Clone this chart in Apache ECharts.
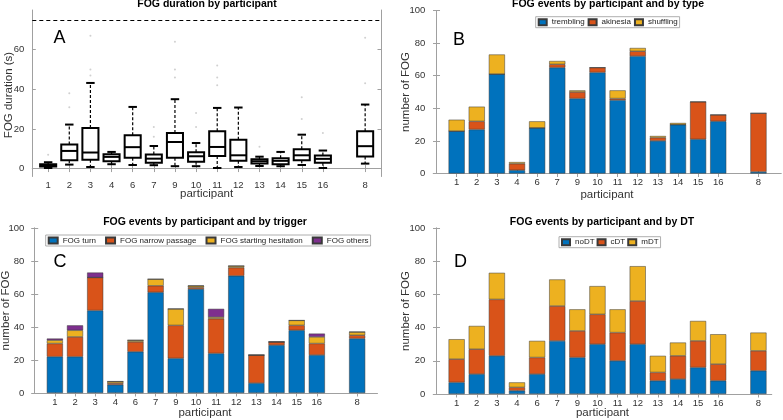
<!DOCTYPE html>
<html><head><meta charset="utf-8">
<script src="https://cdn.jsdelivr.net/npm/echarts@6/dist/echarts.min.js"></script>
<style>html,body{margin:0;padding:0;background:#fff}#c{width:783px;height:420px}</style>
</head><body><div id="c"></div>
<script>
// ---- data ----
const participants = ['1','2','3','4','6','7','9','10','11','12','13','14','15','16','8'];
const positions = [1,2,3,4,5,6,7,8,9,10,11,12,13,14,16];

// Panel A: FOG duration box statistics (s)
const durWhiskerLow  = [0.3, 2.0, 0.8, 2.2, 1.8, 1.7, 1.2, 1.2, 0.3, 0.8, 1.3, 1.2, 1.8, 0.3, 2.5];
const durQ1          = [1.0, 4.2, 4.5, 3.7, 5.5, 3.0, 5.4, 3.4, 6.4, 3.9, 2.5, 2.2, 4.2, 2.9, 6.1];
const durMedian      = [1.5, 8.9, 8.1, 5.9, 10.8, 5.0, 13.4, 6.2, 10.9, 6.7, 3.7, 3.9, 6.7, 4.9, 11.3];
const durQ3          = [2.2, 12.1, 20.5, 7.2, 16.8, 7.1, 18.0, 8.2, 18.8, 14.6, 4.7, 5.2, 9.7, 6.6, 18.8];
const durWhiskerHigh = [3.2, 22.2, 43.2, 8.4, 31.1, 11.4, 35.0, 12.9, 30.6, 30.8, 6.0, 8.4, 17.1, 9.1, 32.3];
const durOutliers    = [[7],[38,31],[67,50,47],[],[],[21,16],[64,50,46],[28,21],[52,46,42],[],[11],[],[36,25],[18],[66,43]];
const durLimit = 75;

// Panel B: by type
const typeTrembling = [26,27,61,2,28,65,46,62,45,72,20,30,21,32,1];
const typeAkinesia  = [0,5,0,4,0,2,4,3,1,3,2,0,23,4,36];
const typeShuffling = [7,9,12,1,4,2,1,0,5,2,1,1,0,0,0];

// Panel C: by trigger
const trigTurn     = [22,22,50,5,25,61,21,63,24,71,6,29,38,23,33];
const trigNarrow   = [8,12,20,1,6,4,20,1,21,5,17,2,3,7,2];
const trigStarting = [2,4,0,1,1,4,10,1,1,1,0,0,3,4,2];
const trigOthers   = [1,3,3,0,0,0,0,0,5,0,0,0,0,2,0];

// Panel D: by DT
const dtNo = [7,12,23,2,12,32,22,30,20,30,8,9,16,8,14];
const dtC  = [14,15,34,2,10,21,16,18,17,26,5,14,16,10,12];
const dtM  = [12,14,16,3,10,16,13,17,14,21,10,8,12,18,11];

const yTicksA = [0,20,40,60];

// ---- styling / layout ----
const FONT = 'Liberation Sans, Arial, Helvetica, sans-serif';
const AXC = '#a0a0a0';
const TXT = '#333333';
const C1 = '#0072BD', C2 = '#D95319', C3 = '#EDB120', C4 = '#7E2F8E';

const grids = [
  {left: 32.3, top: 10, width: 348.7, height: 166.5},
  {left: 433.3, top: 10.5, width: 347.7, height: 163},
  {left: 32.3, top: 228, width: 345, height: 165},
  {left: 433.3, top: 228, width: 338.4, height: 166}
];
const xRanges = [[0.25,16.75],[-0.16,17.12],[-0.12,17.0],[-0.16,16.66]];
const yRanges = [[-4,80],[0,100],[0,100],[0,100]];

const labelFor = v => { const k = positions.indexOf(Math.round(v)); return k >= 0 ? participants[k] : ''; };

const xAxes = [], yAxes = [];
grids.forEach((g, i) => {
  const [xmin, xmax] = xRanges[i];
  const [ymin, ymax] = yRanges[i];
  const line = {show: true, lineStyle: {color: AXC, width: 1}};
  xAxes.push({type: 'value', gridIndex: i, position: 'bottom', min: xmin, max: xmax,
    axisLine: line, splitLine: {show: false},
    axisTick: {show: true, inside: true, length: 3.5, customValues: positions, lineStyle: {color: AXC}},
    axisLabel: {show: true, customValues: positions, formatter: labelFor, color: TXT, fontSize: 9.5, fontFamily: FONT, margin: 4}});
  xAxes.push({type: 'value', gridIndex: i, position: 'top', min: xmin, max: xmax,
    axisLine: line, splitLine: {show: false},
    axisTick: {show: true, inside: true, length: 3.5, customValues: positions, lineStyle: {color: AXC}},
    axisLabel: {show: false}});
  const yt = i === 0 ? yTicksA : [0,20,40,60,80,100];
  yAxes.push({type: 'value', gridIndex: i, position: 'left', min: ymin, max: ymax,
    axisLine: line, splitLine: {show: false},
    axisTick: {show: true, inside: true, length: 3.5, customValues: yt, lineStyle: {color: AXC}},
    axisLabel: {show: true, customValues: yt, color: TXT, fontSize: 9.5, fontFamily: FONT, margin: 8}});
  yAxes.push({type: 'value', gridIndex: i, position: 'right', min: ymin, max: ymax,
    axisLine: line, splitLine: {show: false},
    axisTick: {show: true, inside: true, length: 3.5, customValues: yt, lineStyle: {color: AXC}},
    axisLabel: {show: false}});
});

// Panel A series
const boxData = positions.map((p, k) => [p, durWhiskerLow[k], durQ1[k], durMedian[k], durQ3[k], durWhiskerHigh[k]]);
const outlierData = [];
durOutliers.forEach((arr, k) => arr.forEach(v => outlierData.push([positions[k], v])));

const series = [];
series.push({
  type: 'custom', name: 'FOG duration', xAxisIndex: 0, yAxisIndex: 0,
  data: boxData, encode: {x: 0, y: [1,2,3,4,5]},
  renderItem: function (params, api) {
    const x = api.value(0);
    const lo = api.coord([x, api.value(1)]);
    const q1 = api.coord([x, api.value(2)]);
    const md = api.coord([x, api.value(3)]);
    const q3 = api.coord([x, api.value(4)]);
    const hi = api.coord([x, api.value(5)]);
    const unit = api.size([1, 0])[0];
    const hw = unit * 0.38, cw = unit * 0.2;
    const cx = md[0];
    const solid = {stroke: '#000', lineWidth: 2, fill: null};
    const dash = {stroke: '#000', lineWidth: 1.2, lineDash: [3, 2]};
    return {type: 'group', children: [
      {type: 'line', shape: {x1: cx, y1: q3[1], x2: cx, y2: hi[1]}, style: dash},
      {type: 'line', shape: {x1: cx, y1: q1[1], x2: cx, y2: lo[1]}, style: dash},
      {type: 'line', shape: {x1: cx - cw, y1: hi[1], x2: cx + cw, y2: hi[1]}, style: solid},
      {type: 'line', shape: {x1: cx - cw, y1: lo[1], x2: cx + cw, y2: lo[1]}, style: solid},
      {type: 'rect', shape: {x: cx - hw, y: q3[1], width: 2 * hw, height: q1[1] - q3[1]}, style: {stroke: '#000', lineWidth: 2, fill: 'rgba(0,0,0,0)'}},
      {type: 'line', shape: {x1: cx - hw, y1: md[1], x2: cx + hw, y2: md[1]}, style: solid}
    ]};
  }
});
series.push({
  type: 'scatter', name: 'outliers', xAxisIndex: 0, yAxisIndex: 0,
  data: outlierData, symbol: 'circle', symbolSize: 2, itemStyle: {color: '#c4c4c4'},
  markLine: {silent: true, symbol: 'none', label: {show: false},
    lineStyle: {color: '#000', type: [4, 3], width: 1.2}, data: [{yAxis: durLimit}]}
});

// value column first so the library stacks the y dimension
function barSeries(name, arr, color, gi) {
  return {type: 'bar', name, xAxisIndex: 2 * gi, yAxisIndex: 2 * gi, stack: 'g' + gi,
    barWidth: 16.1, data: positions.map((p, k) => [arr[k], p]), encode: {x: 1, y: 0},
    itemStyle: {color, borderColor: '#3a3a3a', borderWidth: 0.5}};
}
series.push(barSeries('trembling', typeTrembling, C1, 1));
series.push(barSeries('akinesia', typeAkinesia, C2, 1));
series.push(barSeries('shuffling', typeShuffling, C3, 1));
series.push(barSeries('FOG turn', trigTurn, C1, 2));
series.push(barSeries('FOG narrow passage', trigNarrow, C2, 2));
series.push(barSeries('FOG starting hesitation', trigStarting, C3, 2));
series.push(barSeries('FOG others', trigOthers, C4, 2));
series.push(barSeries('noDT', dtNo, C1, 3));
series.push(barSeries('cDT', dtC, C2, 3));
series.push(barSeries('mDT', dtM, C3, 3));

function legend(names, left, top, itemWidth, itemGap) {
  return {data: names, left, top, orient: 'horizontal', icon: 'rect', itemWidth, itemHeight: 6, itemGap,
    padding: [1.5, 2], borderColor: '#9a9a9a', borderWidth: 0.8, backgroundColor: '#fff',
    selectedMode: false, textStyle: {fontSize: 8, fontFamily: FONT, color: '#222'}};
}

function txt(text, x, y, size, weight, rot) {
  return {type: 'text', x, y, rotation: rot || 0, silent: true,
    style: {text, fontSize: size, fontWeight: weight || 'normal', fontFamily: FONT,
      fill: (weight === 'bold' || size >= 16) ? '#000' : TXT,
      align: 'center', verticalAlign: 'middle'}};
}

const graphics = [
  txt('FOG duration by participant', 207, 4, 10.5, 'bold'),
  txt('FOG events by participant and by type', 608, 4, 10.5, 'bold'),
  txt('FOG events by participant and by trigger', 205, 222.5, 10.5, 'bold'),
  txt('FOG events by participant and by DT', 602, 222.5, 10.5, 'bold'),
  txt('A', 59.5, 38.5, 18), txt('B', 459, 40, 18), txt('C', 60, 262.5, 18), txt('D', 460.5, 262.5, 18),
  txt('participant', 206.6, 194.3, 11.5), txt('participant', 607, 195, 11.5),
  txt('participant', 205, 413.3, 11.5), txt('participant', 602.5, 413.3, 11.5),
  txt('FOG duration (s)', 8.5, 95, 11.5, 'normal', Math.PI / 2),
  txt('number of FOG', 406, 92, 11.5, 'normal', Math.PI / 2),
  txt('number of FOG', 5.5, 310.5, 11.5, 'normal', Math.PI / 2),
  txt('number of FOG', 406, 311, 11.5, 'normal', Math.PI / 2)
];

const chart = echarts.init(document.getElementById('c'), null, {renderer: 'canvas'});
chart.setOption({
  animation: false,
  backgroundColor: '#fff',
  textStyle: {fontFamily: FONT},
  grid: grids,
  xAxis: xAxes,
  yAxis: yAxes,
  legend: [
    legend(['trembling','akinesia','shuffling'], 535.7, 16.7, 8, 3),
    legend(['FOG turn','FOG narrow passage','FOG starting hesitation','FOG others'], 45.7, 235, 9, 9),
    legend(['noDT','cDT','mDT'], 559, 236.7, 8, 2)
  ],
  series,
  graphic: graphics
});
</script></body></html>
